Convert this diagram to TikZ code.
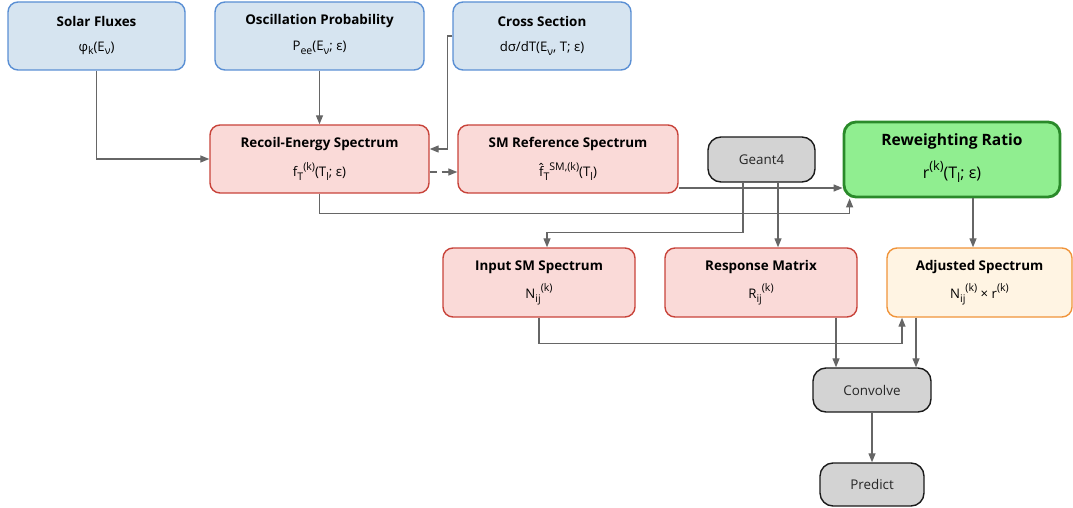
\documentclass[tikz,border=0pt]{standalone}
\usepackage{fontspec}
\setmainfont{Open Sans}
\usetikzlibrary{arrows.meta}
\definecolor{bluefill}{HTML}{D6E4F0}
\definecolor{blueline}{HTML}{5A8FD4}
\definecolor{redfill}{HTML}{FADAD8}
\definecolor{redline}{HTML}{C8433A}
\definecolor{grayfill}{HTML}{D3D3D3}
\definecolor{grayline}{HTML}{1A1A1A}
\definecolor{greenfill}{HTML}{90EE90}
\definecolor{greenline}{HTML}{2A8A2A}
\definecolor{orfill}{HTML}{FFF4E3}
\definecolor{orline}{HTML}{F0943A}
\definecolor{arrgray}{HTML}{666666}
\newcommand{\sbs}[1]{\raisebox{-0.3em}{\scalebox{0.8}{#1}}}
\newcommand{\sps}[1]{\raisebox{0.5em}{\scalebox{0.8}{#1}}}
\newcommand{\fhat}{\ooalign{f\cr\hidewidth\raisebox{0.22em}{ˆ}\hidewidth\cr}}
\tikzset{
  box/.style={rectangle, rounded corners=10pt, line width=1.4pt, inner sep=0pt},
  bluebox/.style={box, fill=bluefill, draw=blueline},
  redbox/.style={box, fill=redfill, draw=redline},
  graybox/.style={box, rounded corners=13pt, fill=grayfill, draw=grayline, font=\fontsize{13.4}{16}\selectfont, text=black!85},
  greenbox/.style={box, rounded corners=12pt, fill=greenfill, draw=greenline, line width=2.8pt},
  orbox/.style={box, fill=orfill, draw=orline},
  ttl/.style={inner sep=0pt, font=\bfseries\fontsize{13.4}{16}\selectfont},
  frm/.style={inner sep=0pt, font=\fontsize{13.2}{16}\selectfont},
  bigttl/.style={inner sep=0pt, font=\bfseries\fontsize{15.6}{18}\selectfont},
  bigfrm/.style={inner sep=0pt, font=\fontsize{16}{19}\selectfont},
  arr/.style={draw=arrgray, line width=1.3pt, -{Triangle[length=9pt,width=7pt]}, fill=none},
}
\begin{document}
\begin{tikzpicture}[x=1pt,y=-1pt]
\useasboundingbox (0,0) rectangle (1073,508);
% top row
\node[bluebox, minimum width=177pt, minimum height=68pt] (solar) at (96.5,36) {};
\node[ttl] (solar-t) at ([yshift=-20pt]solar.north) {Solar Fluxes};
\node[frm] (solar-f) at ([yshift=-47pt]solar.north) {φ\sbs{k}(E\sbs{ν})};
\node[bluebox, minimum width=209pt, minimum height=68pt] (osc) at (319.5,36) {};
\node[ttl] (osc-t) at ([yshift=-20pt]osc.north) {Oscillation Probability};
\node[frm] (osc-f) at ([yshift=-47pt]osc.north) {P\sbs{ee}(E\sbs{ν}; ε)};
\node[bluebox, minimum width=178pt, minimum height=68pt] (cross) at (542,36) {};
\node[ttl] (cross-t) at ([yshift=-20pt]cross.north) {Cross Section};
\node[frm] (cross-f) at ([yshift=-47pt]cross.north) {dσ/dT(E\sbs{ν}, T; ε)};
% second row
\node[redbox, minimum width=219pt, minimum height=68pt] (recoil) at (319.5,159) {};
\node[ttl] (recoil-t) at ([yshift=-20pt]recoil.north) {Recoil-Energy Spectrum};
\node[frm] (recoil-f) at ([yshift=-47pt]recoil.north) {f\sbs{T}\sps{(k)}(T\sbs{l}; ε)};
\node[redbox, minimum width=220pt, minimum height=68pt] (smref) at (568,159) {};
\node[ttl] (smref-t) at ([yshift=-20pt]smref.north) {SM Reference Spectrum};
\node[frm] (smref-f) at ([yshift=-47pt]smref.north) {\fhat\sbs{T}\sps{SM,(k)}(T\sbs{l})};
\node[graybox, minimum width=107pt, minimum height=45pt] (geant) at (761.5,159.5) {Geant4};
\node[greenbox, minimum width=216pt, minimum height=75pt] (rew) at (952,159.5) {};
\node[bigttl] (rew-t) at ([yshift=-21pt]rew.north) {Reweighting Ratio};
\node[bigfrm] (rew-f) at ([yshift=-51pt]rew.north) {r\sps{(k)}(T\sbs{l}; ε)};
% third row
\node[redbox, minimum width=192pt, minimum height=69pt] (inp) at (539,282.5) {};
\node[ttl] (inp-t) at ([yshift=-20pt]inp.north) {Input SM Spectrum};
\node[frm] (inp-f) at ([yshift=-47pt]inp.north) {N\sbs{ij}\sps{(k)}};
\node[redbox, minimum width=192pt, minimum height=69pt] (resp) at (761,282.5) {};
\node[ttl] (resp-t) at ([yshift=-20pt]resp.north) {Response Matrix};
\node[frm] (resp-f) at ([yshift=-47pt]resp.north) {R\sbs{ij}\sps{(k)}};
\node[orbox, minimum width=185pt, minimum height=69pt] (adj) at (979.5,282.5) {};
\node[ttl] (adj-t) at ([yshift=-20pt]adj.north) {Adjusted Spectrum};
\node[frm] (adj-f) at ([yshift=-47pt]adj.north) {N\sbs{ij}\sps{(k)} × r\sps{(k)}};
% bottom
\node[graybox, minimum width=118pt, minimum height=44pt] (conv) at (872,390) {Convolve};
\node[graybox, minimum width=104pt, minimum height=43pt] (pred) at (872,484.5) {Predict};
% connectors
\draw[arr] (solar.south) |- (recoil.west);
\draw[arr] (osc.south) -- (recoil.north);
\draw[arr] (cross.west) -- ++(-5,0) |- ([yshift=10pt]recoil.east);
\draw[arr, dashed, dash pattern=on 7pt off 5pt] ([yshift=-13pt]recoil.east) -- ([yshift=-13pt]smref.west);
\draw[arr] ([yshift=-29pt]smref.east) -- ([yshift=-29pt]smref.east -| rew.west);
\draw[arr] (recoil.south) -- ++(0,20) -| ([xshift=7pt]rew.south west);
\draw[arr] ([xshift=-18.5pt]geant.south) -- ++(0,50) -| ([xshift=8pt]inp.north);
\draw[arr] ([xshift=16.5pt]geant.south) -- ([xshift=16.5pt]geant.south |- resp.north);
\draw[arr] ([xshift=21pt]rew.south) -- ([xshift=21pt]rew.south |- adj.north);
\draw[arr] (inp.south) -- ++(0,26) -| ([xshift=-77.5pt]adj.south);
\draw[arr] ([xshift=75pt]resp.south) -- ([xshift=75pt]resp.south |- conv.north);
\draw[arr] ([xshift=-63.5pt]adj.south) -- ([xshift=-63.5pt]adj.south |- conv.north);
\draw[arr] (conv.south) -- (pred.north);
\end{tikzpicture}
\end{document}
